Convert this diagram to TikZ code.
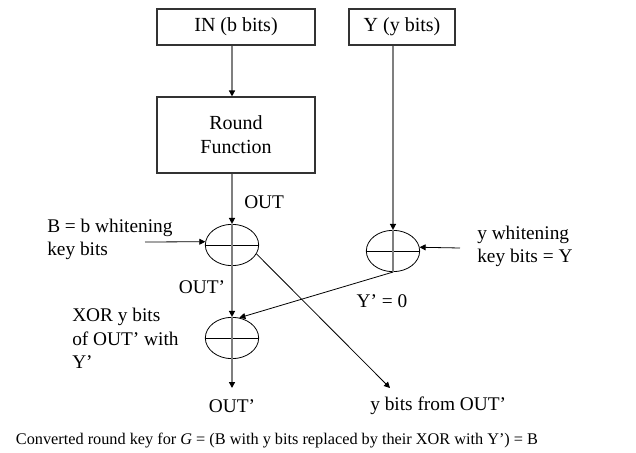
\documentclass[tikz,border=0pt]{standalone}
\usepackage{fontspec}
\setmainfont{Liberation Serif}
\usepackage{xcolor}
\usetikzlibrary{shapes.geometric,arrows.meta}
\definecolor{wireGray}{HTML}{7F7F7F}
\definecolor{boxInk}{HTML}{333333}

\begin{document}
\begin{tikzpicture}[x=0.75pt, y=-0.75pt, line cap=butt,
    lbl/.style={font=\fontsize{14.5}{17.5}\selectfont, inner sep=0pt, align=left},
    box/.style={draw=boxInk, line width=0.8pt, font=\fontsize{15}{18}\selectfont,
      align=center, inner sep=0pt},
    xorop/.style={draw=black, ellipse, line width=0.6pt, minimum width=40pt,
      minimum height=31pt, inner sep=0pt},
    wire/.style={draw=wireGray, line width=1pt, -{Triangle[length=4.5pt, width=4.5pt, color=black]}},
    thinwire/.style={draw=black, line width=0.6pt, -{Triangle[length=4.5pt, width=4.5pt]}}]
  \useasboundingbox (0,0) rectangle (636,453);
  % Input boxes
  \node[box, minimum width=118.5pt, minimum height=27pt] (in) at (236,27) {IN (b bits)};
  \node[box, minimum width=79.5pt, minimum height=27pt] (yin) at (402,27) {Y (y bits)};
  \node[box, minimum width=118.5pt, minimum height=57pt] (rf) at (236,135) {Round\\Function};
  % XOR gates
  \node[xorop] (x1) at (232,245) {};
  \node[xorop] (x2) at (232,338) {};
  \node[xorop] (x3) at (393,251) {};
  \foreach \g in {x1,x2,x3}
    \draw[black, line width=0.6pt] (\g.west) -- (\g.east);
  % Free ends
  \coordinate (bkey) at (145,242);
  \coordinate (ykey) at (460,248);
  \coordinate (outend) at (232,388);
  \coordinate (ybend) at (390,388);
  % Main column
  \draw[wire] (in.south -| x1.north) -- (rf.north -| x1.north);
  \draw[wire] (rf.south -| x1.north) -- (x1.north);
  \draw[wire] (x1.north) -- (x1.south) -- (x2.north);
  \draw[wire] (x2.north) -- (x2.south) -- (outend);
  % Y column
  \draw[wire] (yin.south -| x3.north) -- (x3.north);
  \draw[draw=wireGray, line width=1pt] (x3.north) -- (x3.south);
  % Key inputs and cross links
  \draw[thinwire] (bkey) -- (x1.173);
  \draw[thinwire] (ykey) -- (x3.8);
  \draw[thinwire] (x3.south) -- (x2.70);
  \draw[thinwire] (x1.-20) -- (ybend);
  % Labels
  \node[lbl, anchor=west] (lout) at (244,202) {OUT};
  \node[lbl, anchor=west] (lb) at (47,239.5) {B = b whitening\\key bits};
  \node[lbl] (lout1) at (202,287) {OUT’};
  \node[lbl, anchor=west] (lxor) at (72,338.5) {XOR y bits\\of OUT’ with\\Y’};
  \node[lbl, anchor=west] (ly) at (477,246.5) {y whitening\\key bits = Y};
  \node[lbl] (ly0) at (382,301) {Y’ = 0};
  \node[lbl] (lout2) at (232,406) {OUT’};
  \node[lbl, anchor=west] (lyb) at (370,406) {y bits from OUT’};
  \node[font=\fontsize{12.2}{14}\selectfont, inner sep=0pt] (cap) at (277,441)
    {Converted round key for \textit{G} = (B with y bits replaced by their XOR with Y’) = B};
\end{tikzpicture}
\end{document}
